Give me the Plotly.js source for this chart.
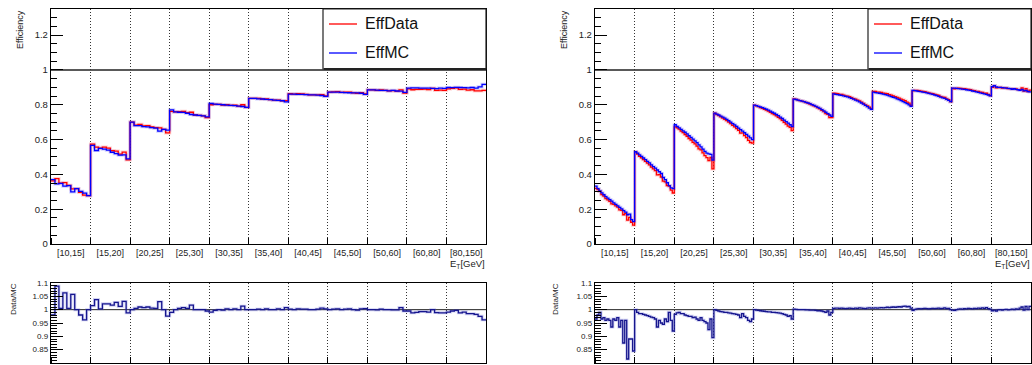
<!DOCTYPE html>
<html>
<head>
<meta charset="utf-8">
<script src="https://cdn.plot.ly/plotly-3.0.1.min.js"></script>
<style>html,body{margin:0;padding:0;background:#fff;}#chart{width:1032px;height:365px;}</style>
</head>
<body>
<div id="chart"></div>
<script>
// ---------------- DATA ----------------
const catLabels = ['[10,15]','[15,20]','[20,25]','[25,30]','[30,35]','[35,40]','[40,45]','[45,50]','[50,60]','[60,80]','[80,150]'];

// Left panel: 10 sub-bins per E_T category
const leftEffMC = [
  0.370,0.345,0.348,0.332,0.335,0.300,0.318,0.302,0.292,0.278,
  0.566,0.537,0.549,0.545,0.539,0.527,0.519,0.510,0.512,0.489,
  0.700,0.680,0.680,0.674,0.673,0.668,0.666,0.648,0.658,0.654,
  0.770,0.759,0.757,0.756,0.751,0.744,0.741,0.739,0.736,0.730,
  0.807,0.804,0.802,0.800,0.798,0.796,0.795,0.792,0.790,0.785,
  0.836,0.836,0.834,0.833,0.831,0.829,0.827,0.825,0.823,0.816,
  0.861,0.861,0.860,0.860,0.858,0.857,0.857,0.855,0.853,0.848,
  0.873,0.872,0.872,0.871,0.870,0.869,0.868,0.868,0.866,0.859,
  0.885,0.885,0.884,0.883,0.882,0.880,0.882,0.879,0.878,0.871,
  0.896,0.897,0.897,0.895,0.896,0.895,0.894,0.893,0.895,0.894,
  0.899,0.898,0.900,0.899,0.898,0.897,0.899,0.896,0.903,0.917
];
const leftEffData = [
  0.363,0.375,0.350,0.353,0.337,0.317,0.318,0.296,0.281,0.278,
  0.574,0.557,0.551,0.557,0.551,0.536,0.533,0.516,0.528,0.483,
  0.700,0.683,0.687,0.679,0.680,0.672,0.669,0.667,0.658,0.638,
  0.762,0.759,0.761,0.762,0.755,0.757,0.741,0.739,0.736,0.726,
  0.800,0.802,0.802,0.798,0.800,0.796,0.797,0.792,0.800,0.785,
  0.836,0.836,0.836,0.833,0.833,0.829,0.827,0.827,0.823,0.823,
  0.863,0.861,0.863,0.862,0.860,0.857,0.857,0.857,0.858,0.851,
  0.873,0.874,0.875,0.871,0.872,0.872,0.868,0.866,0.869,0.862,
  0.885,0.885,0.883,0.885,0.882,0.880,0.881,0.878,0.885,0.867,
  0.891,0.886,0.888,0.889,0.890,0.887,0.894,0.883,0.884,0.883,
  0.891,0.894,0.897,0.888,0.890,0.884,0.886,0.880,0.880,0.882
];
const leftRatio = [
  0.980,1.088,1.005,1.063,1.005,1.057,1.000,0.980,0.962,1.000,
  1.015,1.038,1.003,1.022,1.022,1.017,1.027,1.012,1.031,0.988,
  1.000,1.005,1.010,1.008,1.010,1.006,1.005,1.030,1.000,0.976,
  0.990,1.000,1.005,1.008,1.005,1.017,1.000,1.000,1.000,0.995,
  0.991,0.997,1.000,0.998,1.003,1.000,1.003,1.000,1.013,1.000,
  1.000,1.000,1.002,1.000,1.003,1.000,1.000,1.003,1.000,1.008,
  1.002,1.000,1.003,1.002,1.002,1.000,1.000,1.002,1.006,1.003,
  1.000,1.002,1.003,1.000,1.002,1.003,1.000,0.998,1.003,1.004,
  1.000,1.000,0.999,1.002,1.000,1.000,0.999,0.999,1.008,0.995,
  0.995,0.988,0.990,0.993,0.993,0.991,1.000,0.989,0.988,0.988,
  0.991,0.995,0.997,0.988,0.991,0.985,0.985,0.982,0.975,0.962
];

// Right panel: 20 sub-bins per E_T category
const rightEffMC = [
  0.332,0.318,0.305,0.294,0.283,0.272,0.263,0.255,0.246,0.236,0.228,0.219,0.210,0.202,0.192,0.183,0.168,0.172,0.140,0.128,
  0.530,0.522,0.512,0.503,0.494,0.485,0.475,0.466,0.455,0.445,0.436,0.425,0.415,0.405,0.382,0.370,0.352,0.335,0.322,0.318,
  0.685,0.675,0.667,0.658,0.650,0.642,0.633,0.622,0.612,0.602,0.592,0.582,0.570,0.558,0.545,0.532,0.522,0.518,0.515,0.482,
  0.752,0.746,0.741,0.735,0.729,0.723,0.716,0.708,0.700,0.692,0.684,0.675,0.666,0.657,0.648,0.639,0.630,0.620,0.610,0.600,
  0.798,0.795,0.791,0.787,0.783,0.779,0.774,0.769,0.763,0.757,0.751,0.744,0.737,0.729,0.721,0.712,0.703,0.694,0.685,0.675,
  0.832,0.830,0.827,0.824,0.821,0.818,0.814,0.810,0.806,0.801,0.796,0.791,0.785,0.779,0.772,0.765,0.757,0.749,0.741,0.733,
  0.862,0.860,0.858,0.856,0.854,0.851,0.848,0.845,0.841,0.837,0.832,0.827,0.822,0.816,0.810,0.803,0.796,0.789,0.781,0.773,
  0.872,0.870,0.868,0.866,0.864,0.861,0.858,0.855,0.851,0.847,0.843,0.839,0.834,0.829,0.824,0.818,0.812,0.806,0.799,0.791,
  0.883,0.881,0.879,0.877,0.875,0.873,0.871,0.868,0.865,0.862,0.859,0.856,0.852,0.848,0.844,0.840,0.836,0.831,0.825,0.818,
  0.896,0.895,0.894,0.893,0.891,0.890,0.888,0.886,0.884,0.882,0.879,0.877,0.874,0.871,0.868,0.865,0.862,0.859,0.856,0.851,
  0.904,0.910,0.902,0.900,0.900,0.898,0.897,0.896,0.894,0.893,0.889,0.892,0.888,0.886,0.882,0.888,0.880,0.882,0.876,0.874
];
const rightEffData = [
  0.320,0.312,0.302,0.284,0.275,0.261,0.254,0.245,0.230,0.228,0.219,0.212,0.196,0.194,0.168,0.176,0.137,0.153,0.125,0.108,
  0.530,0.517,0.504,0.495,0.485,0.475,0.465,0.454,0.442,0.432,0.421,0.397,0.398,0.385,0.361,0.357,0.336,0.332,0.309,0.293,
  0.673,0.667,0.660,0.648,0.640,0.629,0.619,0.606,0.597,0.584,0.575,0.562,0.547,0.541,0.523,0.508,0.496,0.479,0.497,0.431,
  0.752,0.744,0.737,0.730,0.723,0.716,0.709,0.700,0.691,0.682,0.673,0.663,0.653,0.637,0.638,0.623,0.611,0.595,0.583,0.579,
  0.798,0.793,0.789,0.784,0.779,0.774,0.769,0.763,0.757,0.749,0.743,0.736,0.728,0.720,0.710,0.699,0.689,0.677,0.670,0.651,
  0.834,0.831,0.827,0.824,0.821,0.818,0.813,0.809,0.804,0.799,0.794,0.789,0.782,0.776,0.768,0.760,0.749,0.745,0.726,0.726,
  0.866,0.865,0.863,0.860,0.859,0.855,0.851,0.849,0.846,0.841,0.835,0.832,0.826,0.822,0.815,0.807,0.799,0.794,0.786,0.778,
  0.877,0.876,0.873,0.872,0.871,0.867,0.865,0.863,0.858,0.855,0.851,0.847,0.842,0.838,0.832,0.828,0.823,0.815,0.809,0.796,
  0.880,0.882,0.882,0.881,0.878,0.876,0.875,0.871,0.868,0.865,0.863,0.859,0.856,0.853,0.847,0.844,0.842,0.834,0.829,0.818,
  0.894,0.892,0.894,0.895,0.894,0.892,0.892,0.889,0.888,0.886,0.882,0.881,0.877,0.876,0.872,0.871,0.866,0.866,0.859,0.853,
  0.900,0.908,0.897,0.899,0.900,0.896,0.897,0.897,0.893,0.893,0.891,0.892,0.891,0.887,0.887,0.897,0.878,0.893,0.876,0.884
];
const rightRatio = [
  0.965,0.980,0.990,0.965,0.970,0.960,0.965,0.960,0.935,0.965,0.960,0.970,0.935,0.960,0.875,0.960,0.815,0.890,0.890,0.845,
  1.000,0.990,0.985,0.985,0.982,0.980,0.978,0.975,0.972,0.970,0.965,0.935,0.960,0.950,0.945,0.965,0.955,0.990,0.960,0.920,
  0.982,0.988,0.990,0.985,0.985,0.980,0.978,0.975,0.975,0.970,0.972,0.965,0.960,0.970,0.960,0.955,0.950,0.925,0.965,0.895,
  1.000,0.997,0.995,0.993,0.992,0.990,0.990,0.988,0.987,0.985,0.984,0.982,0.980,0.970,0.985,0.975,0.970,0.960,0.955,0.965,
  1.000,0.998,0.997,0.996,0.995,0.994,0.993,0.992,0.992,0.990,0.990,0.989,0.988,0.987,0.985,0.982,0.980,0.975,0.978,0.965,
  1.002,1.001,1.000,1.000,1.000,1.000,0.999,0.999,0.998,0.998,0.998,0.997,0.996,0.996,0.995,0.993,0.990,0.995,0.980,0.990,
  1.005,1.006,1.006,1.005,1.006,1.005,1.004,1.005,1.006,1.005,1.004,1.006,1.005,1.007,1.006,1.005,1.004,1.006,1.007,1.006,
  1.006,1.007,1.006,1.007,1.008,1.007,1.008,1.009,1.008,1.009,1.010,1.009,1.010,1.011,1.010,1.012,1.013,1.011,1.012,1.006,
  0.997,1.001,1.003,1.004,1.003,1.004,1.005,1.004,1.003,1.004,1.005,1.004,1.005,1.006,1.004,1.005,1.007,1.004,1.005,1.000,
  0.998,0.997,1.000,1.002,1.003,1.002,1.004,1.003,1.005,1.004,1.003,1.005,1.004,1.006,1.005,1.007,1.005,1.008,1.004,1.002,
  0.996,0.998,0.995,0.999,1.000,0.998,1.000,1.001,0.999,1.000,1.002,1.000,1.003,1.001,1.006,1.010,0.998,1.012,1.000,1.012
];

const mainTickVals = [0, 0.2, 0.4, 0.6, 0.8, 1, 1.2];
const ratioTickVals = [0.8, 0.85, 0.9, 0.95, 1, 1.05, 1.1];
const ratioTickText = ['0.8', '0.85', '0.9', '0.95', '1', '1.05', '1.1'];
const seriesNames = ['EffData', 'EffMC'];

// ---------------- HELPERS ----------------
const W = 1032, H = 365;
const FONT = 'Liberation Sans, Arial, Helvetica, sans-serif';
const nCat = catLabels.length;
const px = v => v / W;
const py = v => 1 - v / H;

function edges(n) { const e = []; for (let i = 0; i <= n; i++) e.push(i * nCat / n); return e; }
function stepY(v) { return v.concat([v[v.length - 1]]); }

function histTraces(vals, color, band, xa, ya, width, bandWidth) {
  const x = edges(vals.length), y = stepY(vals);
  return [
    {x, y, xaxis: xa, yaxis: ya, type: 'scatter', mode: 'lines', line: {shape: 'hv', color: band, width: bandWidth}, hoverinfo: 'skip', showlegend: false},
    {x, y, xaxis: xa, yaxis: ya, type: 'scatter', mode: 'lines', line: {shape: 'hv', color: color, width: width}, showlegend: false}
  ];
}

const RED = '#ff0000', REDB = 'rgba(255,70,70,0.25)';
const BLUE = '#0000ff', BLUEB = 'rgba(70,70,255,0.25)';
const NAVY = '#16168e', NAVYB = 'rgba(90,90,210,0.28)';

let traces = [];
function mainPanel(data, mc, xa, ya) {
  const d = histTraces(data, RED, REDB, xa, ya, 1.3, 3.2);
  const m = histTraces(mc, BLUE, BLUEB, xa, ya, 1.3, 3.2);
  d[1].name = seriesNames[0]; m[1].name = seriesNames[1];
  traces.push(d[0], m[0], d[1], m[1]);
}
mainPanel(leftEffData, leftEffMC, 'x', 'y');
traces.push(...histTraces(leftRatio, NAVY, NAVYB, 'x2', 'y2', 1.3, 3));
mainPanel(rightEffData, rightEffMC, 'x3', 'y3');
traces.push(...histTraces(rightRatio, NAVY, NAVYB, 'x4', 'y4', 1.3, 3));

const catCenters = catLabels.map((_, i) => i + 0.5);
const catEdges = []; for (let i = 0; i <= nCat; i++) catEdges.push(i);

function xAxis(domain, anchor, labels) {
  return {
    domain, anchor, range: [0, nCat], fixedrange: true,
    tickmode: 'array', tickvals: catCenters, ticktext: catLabels, ticks: '',
    showticklabels: labels, tickfont: {family: FONT, size: 9, color: '#222'},
    showline: true, mirror: true, linecolor: '#000', linewidth: 1.2,
    showgrid: false, zeroline: false,
    minor: {tickmode: 'array', tickvals: catEdges, ticks: 'inside', ticklen: 6, tickcolor: '#000',
            showgrid: true, gridcolor: '#333', gridwidth: 1, griddash: '1px,2px'}
  };
}
function yMain(domain, anchor) {
  return {
    domain, anchor, range: [0, 1.35], fixedrange: true,
    tickmode: 'array', tickvals: mainTickVals, ticks: 'inside', ticklen: 12, tickcolor: '#000', tickwidth: 1,
    tickfont: {family: FONT, size: 9.5, color: '#222'},
    showline: true, mirror: true, linecolor: '#000', linewidth: 1.2,
    showgrid: false, zeroline: false,
    minor: {dtick: 0.05, tick0: 0, ticks: 'inside', ticklen: 6, tickcolor: '#000', showgrid: false}
  };
}
function yRatio(domain, anchor) {
  return {
    domain, anchor, range: [0.8, 1.1], fixedrange: true,
    tickmode: 'array', tickvals: ratioTickVals, ticktext: ratioTickText, ticks: 'inside', ticklen: 12, tickcolor: '#000', tickwidth: 1,
    tickfont: {family: FONT, size: 8, color: '#222'},
    showline: true, mirror: true, linecolor: '#000', linewidth: 1.2,
    showgrid: false, zeroline: false,
    minor: {dtick: 0.01, tick0: 0.8, ticks: 'inside', ticklen: 6, tickcolor: '#000', showgrid: false}
  };
}

const mainDom = [py(244), py(9)];
const ratioDom = [py(363), py(283)];
const leftDom = [px(51), px(486)];
const rightDom = [px(595), px(1031)];

const layout = {
  width: W, height: H,
  margin: {l: 0, r: 0, t: 0, b: 0},
  paper_bgcolor: '#fff', plot_bgcolor: '#fff',
  showlegend: false,
  font: {family: FONT, color: '#222'},
  xaxis: xAxis(leftDom, 'y', true),
  yaxis: yMain(mainDom, 'x'),
  xaxis2: xAxis(leftDom, 'y2', false),
  yaxis2: yRatio(ratioDom, 'x2'),
  xaxis3: xAxis(rightDom, 'y3', true),
  yaxis3: yMain(mainDom, 'x3'),
  xaxis4: xAxis(rightDom, 'y4', false),
  yaxis4: yRatio(ratioDom, 'x4'),
  shapes: [],
  annotations: []
};

// reference lines at 1
[['x','y',1.5],['x2','y2',1],['x3','y3',1.5],['x4','y4',1]].forEach(([xa, ya, w]) => {
  layout.shapes.push({type: 'line', xref: xa + ' domain', yref: ya, x0: 0, x1: 1, y0: 1, y1: 1,
                      line: {color: '#222', width: w}, layer: 'below'});
});

// legends, axis titles
function legend(left, right) {
  layout.shapes.push({type: 'rect', xref: 'paper', yref: 'paper', x0: px(left), x1: px(right), y0: py(69), y1: py(9),
                      line: {color: '#222', width: 1.2}, fillcolor: '#fff', layer: 'above'});
  layout.shapes.push({type: 'line', xref: 'paper', yref: 'paper', x0: px(left + 1), x1: px(right), y0: py(69), y1: py(69),
                      line: {color: '#222', width: 2}});
  layout.shapes.push({type: 'line', xref: 'paper', yref: 'paper', x0: px(left + 6), x1: px(left + 34), y0: py(24), y1: py(24),
                      line: {color: '#ff5a5a', width: 2}});
  layout.shapes.push({type: 'line', xref: 'paper', yref: 'paper', x0: px(left + 6), x1: px(left + 34), y0: py(53), y1: py(53),
                      line: {color: BLUE, width: 1.3}});
  layout.annotations.push({xref: 'paper', yref: 'paper', x: px(left + 40), y: py(24), xanchor: 'left', yanchor: 'middle',
                           text: seriesNames[0], showarrow: false, font: {family: FONT, size: 16, color: '#111'}});
  layout.annotations.push({xref: 'paper', yref: 'paper', x: px(left + 40), y: py(53), xanchor: 'left', yanchor: 'middle',
                           text: seriesNames[1], showarrow: false, font: {family: FONT, size: 16, color: '#111'}});
}
legend(323, 486);
legend(868, 1031);

function ytitle(text, x, y, size) {
  layout.annotations.push({xref: 'paper', yref: 'paper', x: px(x), y: py(y), xanchor: 'center', yanchor: 'middle',
                           text, textangle: -90, showarrow: false, font: {family: FONT, size, color: '#222'}});
}
ytitle('Efficiency', 20, 30, 9);
ytitle('Data/MC', 13, 299, 8);
ytitle('Efficiency', 564, 30, 9);
ytitle('Data/MC', 555, 299, 8);

function xtitle(xRight) {
  layout.annotations.push({xref: 'paper', yref: 'paper', x: px(xRight), y: py(256), xanchor: 'right', yanchor: 'top',
                           text: 'E<sub>T</sub>[GeV]', showarrow: false, font: {family: FONT, size: 9.5, color: '#222'}});
}
xtitle(487);
xtitle(1032);

Plotly.newPlot('chart', traces, layout, {staticPlot: true, displayModeBar: false});
</script>
</body>
</html>
